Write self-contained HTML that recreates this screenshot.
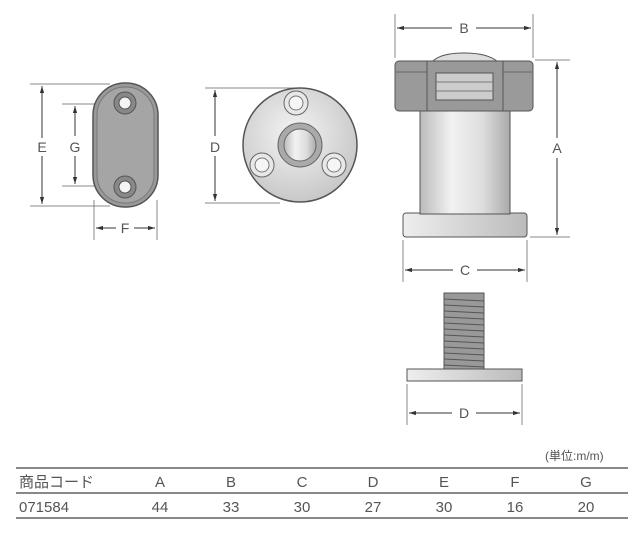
<!DOCTYPE html>
<html><head><meta charset="utf-8"><style>
html,body{margin:0;padding:0;background:#fff;}
svg{display:block}
text{font-family:"Liberation Sans","Noto Sans CJK JP",sans-serif;fill:#555;}
</style></head><body>
<svg width="640" height="537" viewBox="0 0 640 537" xmlns="http://www.w3.org/2000/svg">
<defs>
<linearGradient id="cyl" x1="0" x2="1" y1="0" y2="0">
<stop offset="0" stop-color="#bbb"/><stop offset="0.35" stop-color="#f2f2f2"/><stop offset="0.7" stop-color="#ddd"/><stop offset="1" stop-color="#aaa"/></linearGradient>
<radialGradient id="disc" cx="0.45" cy="0.4" r="0.6"><stop offset="0" stop-color="#f4f4f4"/><stop offset="1" stop-color="#c8c8c8"/></radialGradient>
<linearGradient id="plate" x1="0" x2="1"><stop offset="0" stop-color="#eee"/><stop offset="1" stop-color="#bbb"/></linearGradient>
<marker id="ar" viewBox="0 0 10 10" refX="10" refY="5" markerWidth="7" markerHeight="7" orient="auto-start-reverse"><path d="M0,2 L10,5 L0,8z" fill="#333"/></marker>
</defs>
<g stroke="#888" stroke-width="1" fill="none">
<!-- oval extension lines -->
<line x1="30" y1="84" x2="110" y2="84"/><line x1="30" y1="206" x2="110" y2="206"/>
<line x1="62" y1="104" x2="118" y2="104"/><line x1="62" y1="186" x2="118" y2="186"/>
<line x1="94" y1="200" x2="94" y2="240"/><line x1="157" y1="200" x2="157" y2="240"/>
<!-- circle ext -->
<line x1="205" y1="88" x2="295" y2="88"/><line x1="205" y1="203" x2="280" y2="203"/>
<!-- right -->
<line x1="395" y1="14" x2="395" y2="58"/><line x1="533" y1="14" x2="533" y2="58"/>
<line x1="535" y1="60" x2="570" y2="60"/><line x1="530" y1="237" x2="570" y2="237"/>
<line x1="403" y1="240" x2="403" y2="282"/><line x1="527" y1="240" x2="527" y2="282"/>
<line x1="407" y1="384" x2="407" y2="425"/><line x1="522" y1="384" x2="522" y2="425"/>
</g>
<g stroke="#333" stroke-width="1" fill="none">
<line x1="42" y1="86" x2="42" y2="138" marker-start="url(#ar)"/><line x1="42" y1="156" x2="42" y2="204" marker-end="url(#ar)"/>
<line x1="75" y1="106" x2="75" y2="136" marker-start="url(#ar)"/><line x1="75" y1="156" x2="75" y2="184" marker-end="url(#ar)"/>
<line x1="96" y1="228" x2="116" y2="228" marker-start="url(#ar)"/><line x1="134" y1="228" x2="155" y2="228" marker-end="url(#ar)"/>
<line x1="215" y1="90" x2="215" y2="136" marker-start="url(#ar)"/><line x1="215" y1="156" x2="215" y2="201" marker-end="url(#ar)"/>
<line x1="397" y1="28" x2="452" y2="28" marker-start="url(#ar)"/><line x1="476" y1="28" x2="531" y2="28" marker-end="url(#ar)"/>
<line x1="557" y1="62" x2="557" y2="138" marker-start="url(#ar)"/><line x1="557" y1="158" x2="557" y2="235" marker-end="url(#ar)"/>
<line x1="405" y1="270" x2="453" y2="270" marker-start="url(#ar)"/><line x1="477" y1="270" x2="525" y2="270" marker-end="url(#ar)"/>
<line x1="409" y1="413" x2="452" y2="413" marker-start="url(#ar)"/><line x1="476" y1="413" x2="520" y2="413" marker-end="url(#ar)"/>
</g>
<g font-size="14" text-anchor="middle">
<text x="42" y="152">E</text><text x="75" y="152">G</text><text x="125" y="233">F</text>
<text x="215" y="152">D</text><text x="464" y="33">B</text><text x="557" y="153">A</text>
<text x="465" y="275">C</text><text x="464" y="418">D</text>
</g>
<!-- oval plate -->
<rect x="93" y="83" width="65" height="124" rx="32" fill="#999" stroke="#555" stroke-width="1.5"/>
<rect x="97" y="87" width="57" height="116" rx="28" fill="#a5a5a5" stroke="#777"/>
<circle cx="125" cy="103" r="11" fill="#888" stroke="#555"/><circle cx="125" cy="103" r="6" fill="#f4f4f4" stroke="#555"/>
<circle cx="125" cy="187" r="11" fill="#888" stroke="#555"/><circle cx="125" cy="187" r="6" fill="#f4f4f4" stroke="#555"/>
<!-- disc -->
<circle cx="300" cy="145" r="57" fill="url(#disc)" stroke="#555" stroke-width="1.5"/>
<circle cx="300" cy="145" r="22" fill="#aaa" stroke="#666"/>
<circle cx="300" cy="145" r="16" fill="url(#cyl)" stroke="#666"/>
<circle cx="296" cy="103" r="12" fill="#e8e8e8" stroke="#666"/><circle cx="296" cy="103" r="7" fill="#f6f6f6" stroke="#777"/>
<circle cx="262" cy="165" r="12" fill="#e8e8e8" stroke="#666"/><circle cx="262" cy="165" r="7" fill="#f6f6f6" stroke="#777"/>
<circle cx="334" cy="165" r="12" fill="#e8e8e8" stroke="#666"/><circle cx="334" cy="165" r="7" fill="#f6f6f6" stroke="#777"/>
<!-- right assembly -->
<rect x="403" y="213" width="124" height="24" rx="3" fill="url(#plate)" stroke="#555"/>
<rect x="420" y="110" width="90" height="104" fill="url(#cyl)" stroke="#555"/>
<path d="M432,62 Q440,53 464,53 Q488,53 498,62z" fill="#ddd" stroke="#555"/>
<rect x="395" y="61" width="138" height="50" rx="4" fill="#9a9a9a" stroke="#555"/>
<line x1="396" y1="72" x2="532" y2="72" stroke="#666"/>
<rect x="427" y="61" width="76" height="50" fill="#999" stroke="#555"/>
<rect x="436" y="73" width="57" height="27" fill="#ccc" stroke="#555"/>
<line x1="436" y1="82" x2="493" y2="82" stroke="#777"/><line x1="436" y1="91" x2="493" y2="91" stroke="#777"/>
<!-- screw -->
<rect x="444" y="293" width="40" height="77" fill="#999" stroke="#555"/>
<g stroke="#555" stroke-width="1">
<line x1="444" y1="299" x2="484" y2="301"/><line x1="444" y1="305" x2="484" y2="307"/><line x1="444" y1="311" x2="484" y2="313"/><line x1="444" y1="317" x2="484" y2="319"/><line x1="444" y1="323" x2="484" y2="325"/><line x1="444" y1="329" x2="484" y2="331"/><line x1="444" y1="335" x2="484" y2="337"/><line x1="444" y1="341" x2="484" y2="343"/><line x1="444" y1="347" x2="484" y2="349"/><line x1="444" y1="353" x2="484" y2="355"/><line x1="444" y1="359" x2="484" y2="361"/><line x1="444" y1="365" x2="484" y2="367"/>
</g>
<rect x="407" y="369" width="115" height="12" fill="url(#plate)" stroke="#555"/>
<!-- table -->
<text x="545" y="460" font-size="12">(単位:m/m)</text>
<g stroke="#888" stroke-width="2"><line x1="16" y1="468" x2="628" y2="468"/><line x1="16" y1="493" x2="628" y2="493"/><line x1="16" y1="518" x2="628" y2="518"/></g>
<g font-size="15">
<text x="19" y="487">商品コード</text><text x="19" y="512">071584</text>
</g>
<g font-size="15" text-anchor="middle">
<text x="160" y="487">A</text><text x="231" y="487">B</text><text x="302" y="487">C</text><text x="373" y="487">D</text><text x="444" y="487">E</text><text x="515" y="487">F</text><text x="586" y="487">G</text>
<text x="160" y="512">44</text><text x="231" y="512">33</text><text x="302" y="512">30</text><text x="373" y="512">27</text><text x="444" y="512">30</text><text x="515" y="512">16</text><text x="586" y="512">20</text>
</g>
</svg>
</body></html>
